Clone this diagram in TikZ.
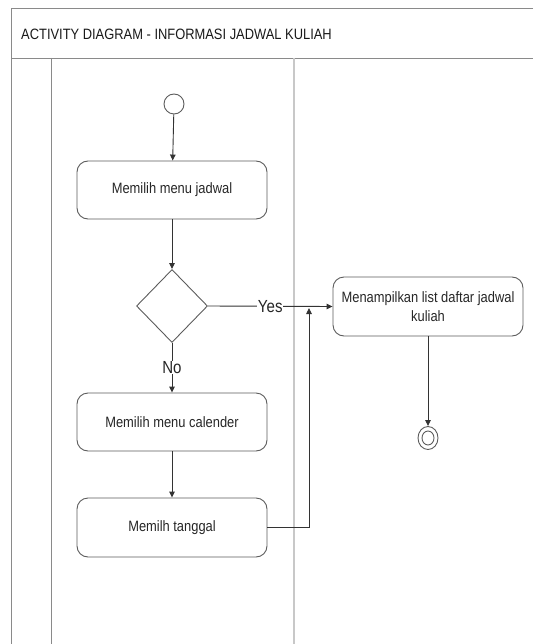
\documentclass[tikz,border=0pt]{standalone}
\usepackage{fontspec}
\setmainfont{Liberation Sans}[FakeStretch=0.86]
\usetikzlibrary{shapes.geometric,arrows.meta}
\definecolor{edge}{HTML}{333333}
\definecolor{frame}{HTML}{8A8A8A}
\definecolor{lane}{HTML}{C8C8C8}
\tikzset{
  act/.style={draw=edge!80, line width=0.9pt, rounded corners=11pt, minimum width=190pt, minimum height=58pt, align=center, font=\fontsize{15}{19}\selectfont, text=black!85, inner sep=2pt},
  flow/.style={draw=edge, line width=0.9pt, -{Triangle[length=6pt,width=5.5pt]}},
  lbl/.style={fill=white, inner sep=0.5pt, font=\fontsize{17.5}{20}\selectfont, text=black!85},
  framel/.style={draw=frame, line width=0.9pt}
}
\begin{document}
\begin{tikzpicture}[x=1pt,y=-1pt]
\useasboundingbox (0,0) rectangle (533,644);
% frame and lanes
\draw[framel] (533,8) -- (11,8) -- (11,644);
\draw[framel] (11,58) -- (533,58);
\draw[framel] (51,58) -- (51,644);
\draw[draw=lane, line width=1.6pt] (294,58) -- (294,644);
\node[anchor=west, font=\fontsize{15}{18}\selectfont, text=black!90, inner sep=0pt] (title) at (21,34) {ACTIVITY DIAGRAM - INFORMASI JADWAL KULIAH};
% nodes
\node[circle, draw=edge!80, line width=0.9pt, minimum size=20pt, inner sep=0pt] (start) at (174,104) {};
\node[act] (b1) at (172,190) {Memilih menu jadwal};
\node[diamond, draw=edge!80, line width=0.9pt, minimum width=71pt, minimum height=73pt, inner sep=0pt] (dec) at (172,306) {};
\node[act, minimum height=59pt] (b3) at (428,306.5) {Menampilkan list daftar jadwal\\kuliah};
\node[act] (b4) at (172,422) {Memilih menu calender};
\node[act, minimum height=59pt] (b5) at (172,527.5) {Memilh tanggal};
\node[ellipse, draw=edge!80, line width=0.9pt, minimum width=20pt, minimum height=23pt, inner sep=0pt] (final) at (428,438) {};
\node[ellipse, draw=edge!80, line width=0.9pt, minimum width=12pt, minimum height=14pt, inner sep=0pt] (finalin) at (428,438) {};
\coordinate (merge) at (309,308);
% connectors
\draw[flow] (start) -- (b1);
\draw[flow] (b1) -- (dec);
\draw[flow] (dec.east) -- node[lbl] {Yes} (b3.west);
\draw[flow] (dec.south) -- node[lbl] {No} (b4.north);
\draw[flow] (b4) -- (b5);
\draw[flow] (b5.east) -| (merge);
\draw[flow] (b3.south) -- (final.north);
\end{tikzpicture}
\end{document}
